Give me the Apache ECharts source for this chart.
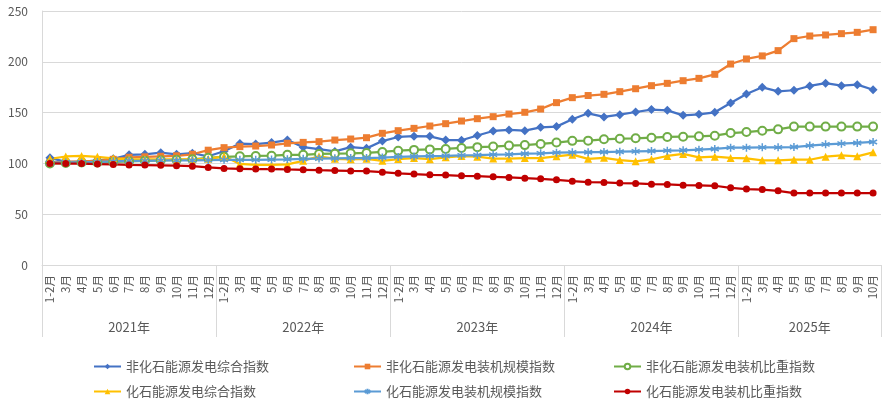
<!DOCTYPE html>
<html>
<head>
<meta charset="utf-8">
<script src="https://cdn.jsdelivr.net/npm/echarts@6/dist/echarts.min.js"></script>
<style>
html,body{margin:0;padding:0;background:#fff;}
#c{width:889px;height:404px;}
</style>
</head>
<body>
<div id="c"></div>
<script>
// ---- data ----
const years = ['2021年', '2022年', '2023年', '2024年', '2025年'];
const monthsFull = ['1-2月', '3月', '4月', '5月', '6月', '7月', '8月', '9月', '10月', '11月', '12月'];
const months2025 = ['1-2月', '3月', '4月', '5月', '6月', '7月', '8月', '9月', '10月'];

const nonFossilGen = [105.5, 101.5, 101.5, 103, 104.5, 108.5, 109, 110.5, 109, 110, 107,
  112, 119.5, 119, 120.5, 123, 116, 114, 111.8, 116, 114.8, 122,
  126, 126.8, 126.6, 123, 122.8, 127.5, 131.9, 132.9, 132.2, 135.5, 136.2,
  143.5, 149.3, 145.7, 148, 150.6, 153, 152.2, 147.3, 148.3, 150.3, 159.4,
  168.3, 174.9, 170.9, 172, 176.2, 179, 176.5, 177.5, 172.5];
const nonFossilCap = [101, 101.5, 102, 102.5, 104, 106, 106.5, 107, 107.5, 109, 113,
  115.5, 116.5, 117.1, 118.1, 119.8, 120.7, 121.4, 123, 124, 125.3, 129.6,
  132.2, 134.5, 136.8, 139.1, 141.7, 144, 146, 148.6, 150.3, 153.5, 159.8,
  164.7, 166.8, 168, 170.6, 173.5, 176.5, 178.8, 181.4, 183.7, 187.7, 197.8,
  202.8, 205.8, 211, 222.8, 225.4, 226.4, 227.7, 229, 231.6];
const nonFossilShare = [100, 100.5, 101, 101, 101.5, 102, 102.5, 103, 103.5, 104, 105.5,
  106.5, 107, 107.3, 107.6, 108.5, 108.5, 109.3, 109.6, 109.9, 110.3, 111.3,
  112.5, 113.3, 113.8, 114.2, 115.2, 116, 116.6, 117.5, 118, 119.1, 120.5,
  122.2, 122.4, 123.7, 124.3, 124.7, 125.3, 126, 126.3, 126.6, 127.3, 129.9,
  130.9, 132.2, 133.5, 136.2, 136.2, 136.2, 136.2, 136.2, 136.2];
const fossilGen = [104.5, 106.8, 107.3, 106.5, 105, 104, 104, 104, 104, 104, 104.5,
  107, 99.5, 98.5, 98.5, 99, 102.5, 107, 104.5, 104, 104.5, 102.5,
  104.3, 105.3, 104.2, 106, 107.2, 106.6, 104.7, 104.7, 105.3, 105.3, 107,
  108.6, 104.5, 105.5, 103.3, 102, 104, 107.3, 109.3, 106, 106.6, 105.4,
  105, 103, 103, 103.6, 103.6, 106.6, 108, 107, 110.9];
const fossilCap = [100.5, 101, 101, 101.5, 102, 102.5, 102.5, 103, 103, 103, 103.3,
  103.5, 103.5, 103.5, 103.8, 104, 104.5, 104.8, 105, 105.2, 105.3, 105.8,
  106.4, 106.8, 107.1, 107.4, 107.9, 108.2, 108.6, 108.9, 109.5, 109.9, 110.6,
  110.9, 111, 111.2, 111.5, 111.9, 112.2, 112.5, 112.9, 113.5, 114.2, 115.5,
  115.5, 115.8, 115.8, 116.1, 117.5, 118.8, 119.4, 120.1, 121.1];
const fossilShare = [100, 99.8, 99.8, 99.4, 99, 98.5, 98.4, 98.1, 97.8, 97.2, 96,
  95, 94.7, 94.4, 94.4, 94, 93.7, 93.3, 93, 92.6, 92.5, 91.3,
  90.3, 89.5, 88.8, 88.5, 87.8, 87.4, 86.8, 86.2, 85.5, 84.8, 83.8,
  82.5, 81.5, 81.3, 80.6, 80.3, 79.6, 79.3, 78.6, 78.3, 78, 76,
  74.7, 74.3, 73, 70.8, 70.8, 70.8, 70.8, 70.8, 70.8];

const seriesNames = ['非化石能源发电综合指数', '非化石能源发电装机规模指数', '非化石能源发电装机比重指数',
  '化石能源发电综合指数', '化石能源发电装机规模指数', '化石能源发电装机比重指数'];
const yTicks = [0, 50, 100, 150, 200, 250];

// ---- build categories ----
const categories = [];
const yearKeys = [];
const groupStarts = [];
const groupMids = [];
years.forEach(function (y, yi) {
  const ms = yi === years.length - 1 ? months2025 : monthsFull;
  groupStarts.push(categories.length);
  groupMids.push(categories.length + Math.floor(ms.length / 2));
  ms.forEach(function (m) {
    yearKeys.push(y + '#' + categories.length);
    categories.push(m);
  });
});

const FONT = "'Noto Sans CJK SC', 'Microsoft YaHei', sans-serif";
const TXT = '#595959';
const GRID = '#d9d9d9';

const styles = [
  {color: '#4472C4', symbol: 'diamond', size: 9},
  {color: '#ED7D31', symbol: 'rect', size: 7},
  {color: '#70AD47', symbol: 'emptyCircle', size: 8},
  {color: '#FFC000', symbol: 'triangle', size: 8},
  {color: '#5B9BD5', symbol: 'path://M0,-5L0,5M-4.33,-2.5L4.33,2.5M-4.33,2.5L4.33,-2.5', size: 8},
  {color: '#C00000', symbol: 'circle', size: 7}
];
const values = [nonFossilGen, nonFossilCap, nonFossilShare, fossilGen, fossilCap, fossilShare];

const series = values.map(function (v, i) {
  const s = styles[i];
  const itemStyle = {color: s.color};
  if (i === 2) { itemStyle.borderColor = s.color; itemStyle.borderWidth = 1.5; }
  if (i === 4) { itemStyle.borderColor = s.color; itemStyle.borderWidth = 1.5; }
  return {
    name: seriesNames[i],
    type: 'line',
    data: v,
    symbol: s.symbol,
    symbolSize: s.size,
    showAllSymbol: true,
    lineStyle: {width: 2.25, color: s.color},
    itemStyle: itemStyle,
    emphasis: {disabled: true},
    animation: false
  };
});

const legendCols = [93, 353, 613];
const legendRows = [360, 385];
const legends = seriesNames.map(function (n, i) {
  return {
    data: [n],
    left: legendCols[i % 3],
    top: legendRows[Math.floor(i / 3)],
    padding: 0,
    itemWidth: 27,
    itemHeight: 7,
    selectedMode: false,
    textStyle: {fontSize: 13, color: TXT, fontFamily: FONT}
  };
});

const chart = echarts.init(document.getElementById('c'), null, {renderer: 'canvas'});
chart.setOption({
  animation: false,
  textStyle: {fontFamily: FONT},
  grid: {left: 42, right: 8, top: 11, bottom: 139, containLabel: false},
  legend: legends,
  xAxis: [
    {
      type: 'category',
      data: categories,
      position: 'bottom',
      boundaryGap: true,
      axisLine: {show: true, lineStyle: {color: GRID, width: 1}},
      axisTick: {show: false},
      axisLabel: {rotate: 90, interval: 0, fontSize: 11.5, color: TXT, margin: 10, fontFamily: FONT}
    },
    {
      type: 'category',
      data: yearKeys,
      position: 'bottom',
      boundaryGap: true,
      axisLine: {show: false},
      axisTick: {
        show: true,
        length: 72,
        interval: function (idx) { return groupStarts.indexOf(idx) >= 0; },
        lineStyle: {color: GRID, width: 1}
      },
      axisLabel: {
        interval: function (idx) { return groupMids.indexOf(idx) >= 0; },
        formatter: function (v) { return v.split('#')[0]; },
        fontSize: 13,
        color: TXT,
        margin: 56,
        fontFamily: FONT
      },
      splitLine: {show: false}
    }
  ],
  yAxis: {
    type: 'value',
    min: yTicks[0],
    max: yTicks[yTicks.length - 1],
    interval: yTicks[1] - yTicks[0],
    axisLine: {show: true, lineStyle: {color: GRID, width: 1}},
    axisTick: {show: false},
    splitLine: {show: true, lineStyle: {color: GRID, width: 1}},
    axisLabel: {color: TXT, fontSize: 12, margin: 14, fontFamily: FONT}
  },
  series: series
});
</script>
</body>
</html>
